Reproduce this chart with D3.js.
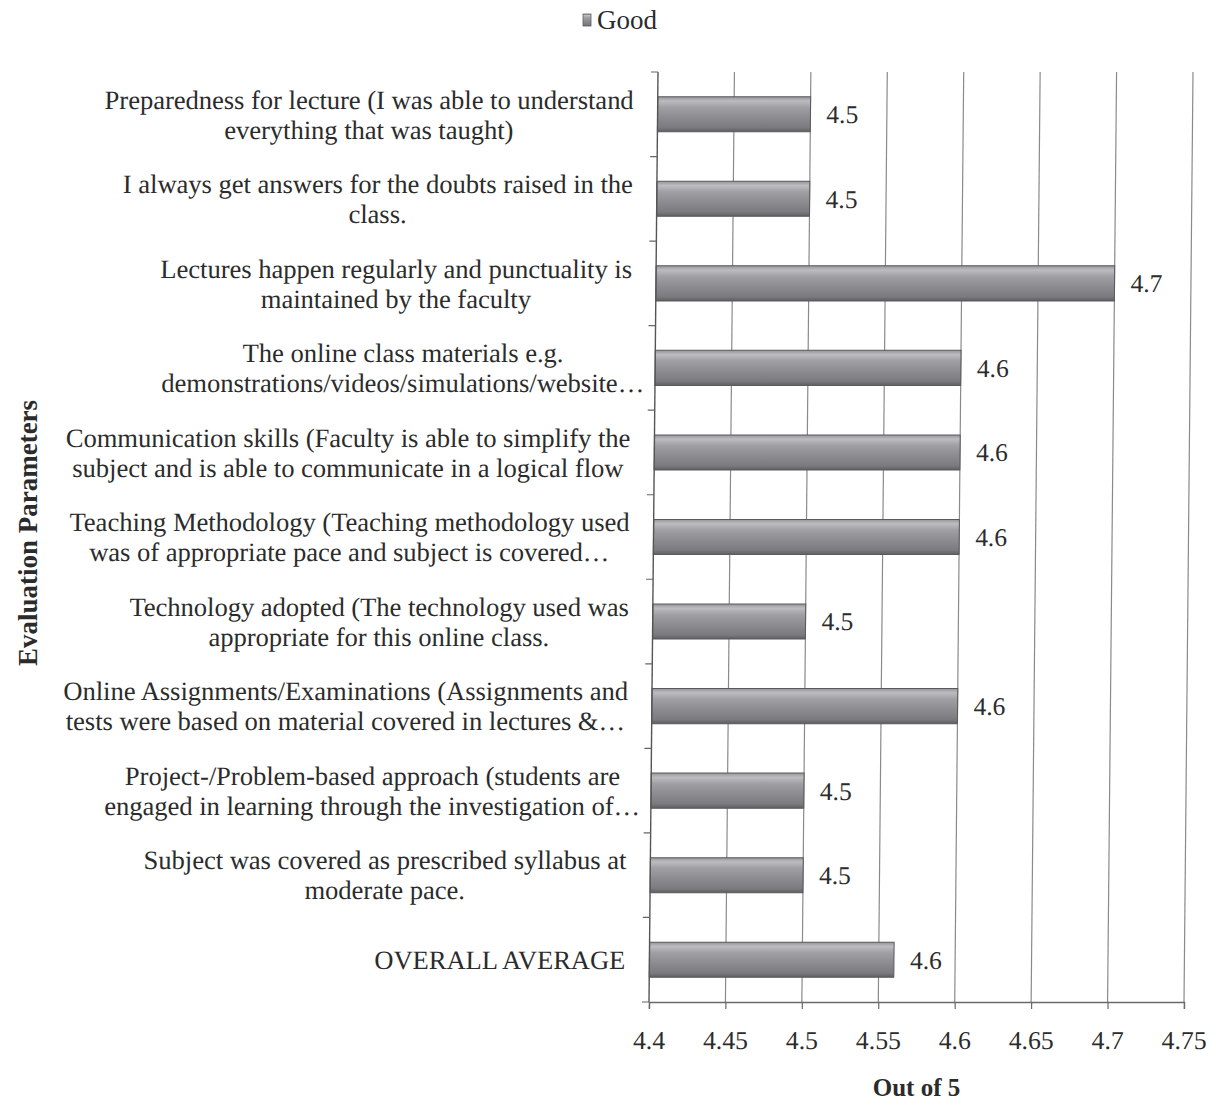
<!DOCTYPE html>
<html>
<head>
<meta charset="utf-8">
<script src="https://cdn.jsdelivr.net/npm/d3@7"></script>
<style>
  html, body { margin: 0; padding: 0; background: #fff; }
  svg { display: block; }
</style>
</head>
<body>
<script>
// ---------------- DATA ----------------
const categories = [
  ["Preparedness for lecture (I was able to understand", "everything that was taught)"],
  ["I always get answers for the doubts raised in the", "class."],
  ["Lectures happen regularly and punctuality is", "maintained by the faculty"],
  ["The online class materials e.g.", "demonstrations/videos/simulations/website\u2026"],
  ["Communication skills (Faculty is able to simplify the", "subject and is able to communicate in a logical flow"],
  ["Teaching Methodology (Teaching methodology used", "was of appropriate pace and subject is covered\u2026"],
  ["Technology adopted (The technology used was", "appropriate for this online class."],
  ["Online Assignments/Examinations (Assignments and", "tests were based on material covered in lectures &\u2026"],
  ["Project-/Problem-based approach (students are", "engaged in learning through the investigation of\u2026"],
  ["Subject was covered as prescribed syllabus at", "moderate pace."],
  ["OVERALL AVERAGE"]
];
const goodValues = [4.5, 4.5, 4.7, 4.6, 4.6, 4.6, 4.5, 4.6, 4.5, 4.5, 4.56];
const xTicks = [4.4, 4.45, 4.5, 4.55, 4.6, 4.65, 4.7, 4.75];
const xTickLabels = ["4.4", "4.45", "4.5", "4.55", "4.6", "4.65", "4.7", "4.75"];
const seriesName = "Good";
const xTitle = "Out of 5";
const yTitle = "Evaluation Parameters";

// ---------------- LAYOUT ----------------
(function () {
const W = 1216, H = 1105;
const pL = 658, pR = 1193, pT = 72, pB = 1002;
const FONT = "'Liberation Serif', 'Times New Roman', serif";
const TXT = "#2b2b2b";
const CAT_FS = 26.5;

const svg = d3.select("body").append("svg").attr("width", W).attr("height", H);

const defs = svg.append("defs");
const grad = defs.append("linearGradient").attr("id", "barGrad")
  .attr("x1", 0).attr("y1", 0).attr("x2", 0).attr("y2", 1);
[[0, "#949499"], [0.12, "#bdbdc1"], [0.3, "#a0a0a4"], [0.6, "#8c8c90"], [0.88, "#7b7b7f"], [1, "#5e5e62"]]
  .forEach(([o, c]) => grad.append("stop").attr("offset", o).attr("stop-color", c));

// scanned image is slightly sheared
const shear = -9 / (pB - pT);
const skewDeg = Math.atan(shear) * 180 / Math.PI;
const g = svg.append("g")
  .attr("transform", `translate(0,${pT}) skewX(${skewDeg}) translate(0,${-pT})`);

const x = d3.scaleLinear().domain([4.4, 4.75]).range([pL, pR]);
const y = d3.scaleBand().domain(d3.range(categories.length)).range([pT, pB]).paddingInner(0.585).paddingOuter(0.2925);

// gridlines
g.append("g").selectAll("line").data(xTicks.slice(1)).join("line")
  .attr("x1", d => x(d)).attr("x2", d => x(d))
  .attr("y1", pT).attr("y2", pB)
  .attr("stroke", "#8a8a8a").attr("stroke-width", 1.2);

// bars
g.append("g").selectAll("rect").data(goodValues).join("rect")
  .attr("x", x(4.4))
  .attr("y", (d, i) => y(i))
  .attr("width", d => x(d) - x(4.4))
  .attr("height", y.bandwidth())
  .attr("fill", "url(#barGrad)")
  .attr("stroke", "#5a5a5e").attr("stroke-width", 1);

// value labels
g.append("g").selectAll("text").data(goodValues).join("text")
  .attr("x", d => x(d) + 16)
  .attr("y", (d, i) => y(i) + y.bandwidth() / 2)
  .attr("dy", "0.35em")
  .attr("font-family", FONT).attr("font-size", 25.5).attr("fill", TXT)
  .text(d => d3.format(".1f")(d));

// x axis
const xAxis = g.append("g").attr("transform", `translate(0,${pB})`)
  .call(d3.axisBottom(x).tickValues(xTicks).tickFormat((d, i) => xTickLabels[i]).tickSize(7).tickPadding(22));
xAxis.select(".domain").attr("stroke", "#6a6a6a").attr("stroke-width", 1.4);
xAxis.selectAll(".tick line").attr("stroke", "#6a6a6a").attr("stroke-width", 1.2);
xAxis.selectAll(".tick text").attr("font-family", FONT).attr("font-size", 25.7).attr("fill", TXT);

// y axis (category boundary ticks)
const yAxisG = g.append("g");
yAxisG.append("line").attr("x1", pL).attr("x2", pL).attr("y1", pT).attr("y2", pB)
  .attr("stroke", "#555").attr("stroke-width", 1.4);
const bounds = d3.range(categories.length + 1).map(i => pT + i * y.step());
yAxisG.selectAll("line.tk").data(bounds).join("line").attr("class", "tk")
  .attr("x1", pL - 7).attr("x2", pL).attr("y1", d => d).attr("y2", d => d)
  .attr("stroke", "#666").attr("stroke-width", 1.2);

// category labels
const labelRight = 634;
const lineH = 30;
const catG = g.append("g");
categories.forEach((lines, i) => {
  const cy = y(i) + y.bandwidth() / 2;
  const grp = catG.append("g");
  const texts = lines.map((ln, j) => grp.append("text")
    .attr("font-family", FONT).attr("font-size", CAT_FS).attr("fill", TXT)
    .attr("text-anchor", "middle")
    .attr("y", cy + (j - (lines.length - 1) / 2) * lineH)
    .attr("dy", "0.35em")
    .text(ln));
  let w = 0;
  texts.forEach((t, j) => {
    let tw = t.node().getComputedTextLength();
    if (lines[j].endsWith("\u2026")) {
      const tmp = grp.append("text").attr("font-family", FONT).attr("font-size", CAT_FS).text("\u2026");
      tw -= tmp.node().getComputedTextLength();
      tmp.remove();
    }
    w = Math.max(w, tw);
  });
  texts.forEach(t => t.attr("x", labelRight - w / 2));
});

// axis titles
svg.append("text")
  .attr("x", (x(4.4) + x(4.75)) / 2 + shear * (pB - pT))
  .attr("y", 1096)
  .attr("text-anchor", "middle")
  .attr("font-family", FONT).attr("font-size", 25).attr("font-weight", "bold").attr("fill", TXT)
  .text(xTitle);

svg.append("text")
  .attr("transform", `translate(37,${(pT + pB) / 2 - 4}) rotate(-90)`)
  .attr("text-anchor", "middle")
  .attr("font-family", FONT).attr("font-size", 27).attr("font-weight", "bold").attr("fill", TXT)
  .text(yTitle);

// legend
const leg = svg.append("g").attr("transform", "translate(583,20)");
leg.append("rect").attr("x", 0).attr("y", -6).attr("width", 8).attr("height", 12)
  .attr("fill", "url(#barGrad)").attr("stroke", "#5e5e62").attr("stroke-width", 0.8);
leg.append("text").attr("x", 14).attr("y", 0).attr("dy", "0.35em")
  .attr("font-family", FONT).attr("font-size", 27).attr("fill", TXT)
  .text(seriesName);
})();
</script>
</body>
</html>
